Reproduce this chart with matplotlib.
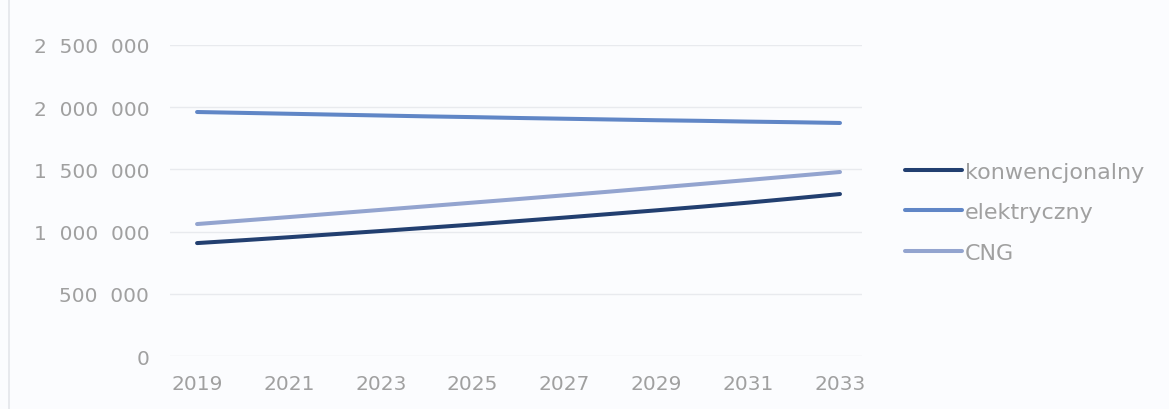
import numpy as np
import matplotlib
matplotlib.use('Agg')
import matplotlib.pyplot as plt
from matplotlib.ticker import FixedLocator, FuncFormatter

years = list(range(2019, 2034))
konwencjonalny = [908, 931, 955, 980, 1005, 1031, 1057, 1085,
                  1113, 1142, 1171, 1201, 1233, 1267, 1302]
elektryczny = [1961, 1954, 1947, 1940, 1933, 1926, 1920, 1913,
               1907, 1901, 1895, 1890, 1884, 1879, 1873]
cng = [1061, 1089, 1117, 1146, 1175, 1204, 1233, 1262,
       1292, 1322, 1353, 1384, 1415, 1447, 1479]
series = [
    ('konwencjonalny', konwencjonalny, '#223f70'),
    ('elektryczny', elektryczny, '#6086c6'),
    ('CNG', cng, '#93a4cf'),
]
y_ticks = [0, 500000, 1000000, 1500000, 2000000, 2500000]
x_ticks = years[::2]

BG = '#fbfcfe'
TXT = '#a0a0a0'

fig = plt.figure(figsize=(11.69, 4.10), dpi=100, facecolor=BG)
ax = fig.add_axes([0.1454, 0.129, 0.592, 0.759], facecolor=BG)

for name, vals, col in series:
    ax.plot(years, np.array(vals) * 1000, color=col, lw=2.9,
            solid_capstyle='round', label=name, zorder=3)

ax.set_xlim(2018.41, 2033.48)
ax.set_ylim(0, 2500000)
ax.yaxis.set_major_locator(FixedLocator(y_ticks))
ax.xaxis.set_major_locator(FixedLocator(x_ticks))
ax.yaxis.set_major_formatter(
    FuncFormatter(lambda v, _: f'{int(v):,}'.replace(',', '\u2007')))
ax.grid(axis='y', color='#e8eaee', lw=1.0, zorder=0)
for s in ax.spines.values():
    s.set_visible(False)
ax.tick_params(axis='both', length=0, labelsize=14.5, labelcolor=TXT)
ax.tick_params(axis='y', pad=15)
ax.tick_params(axis='x', pad=13)

fig.legend(loc='center left', bbox_to_anchor=(0.757, 0.480),
           frameon=False, fontsize=16, labelcolor=TXT,
           handlelength=2.57, handletextpad=0.12, labelspacing=0.92)

# faint chart border on the left
fig.add_artist(plt.Line2D([0.008, 0.008], [0.0, 1.0], color='#e4e6ea', lw=1.2))

fig.savefig('out.png', dpi=100, facecolor=BG)
